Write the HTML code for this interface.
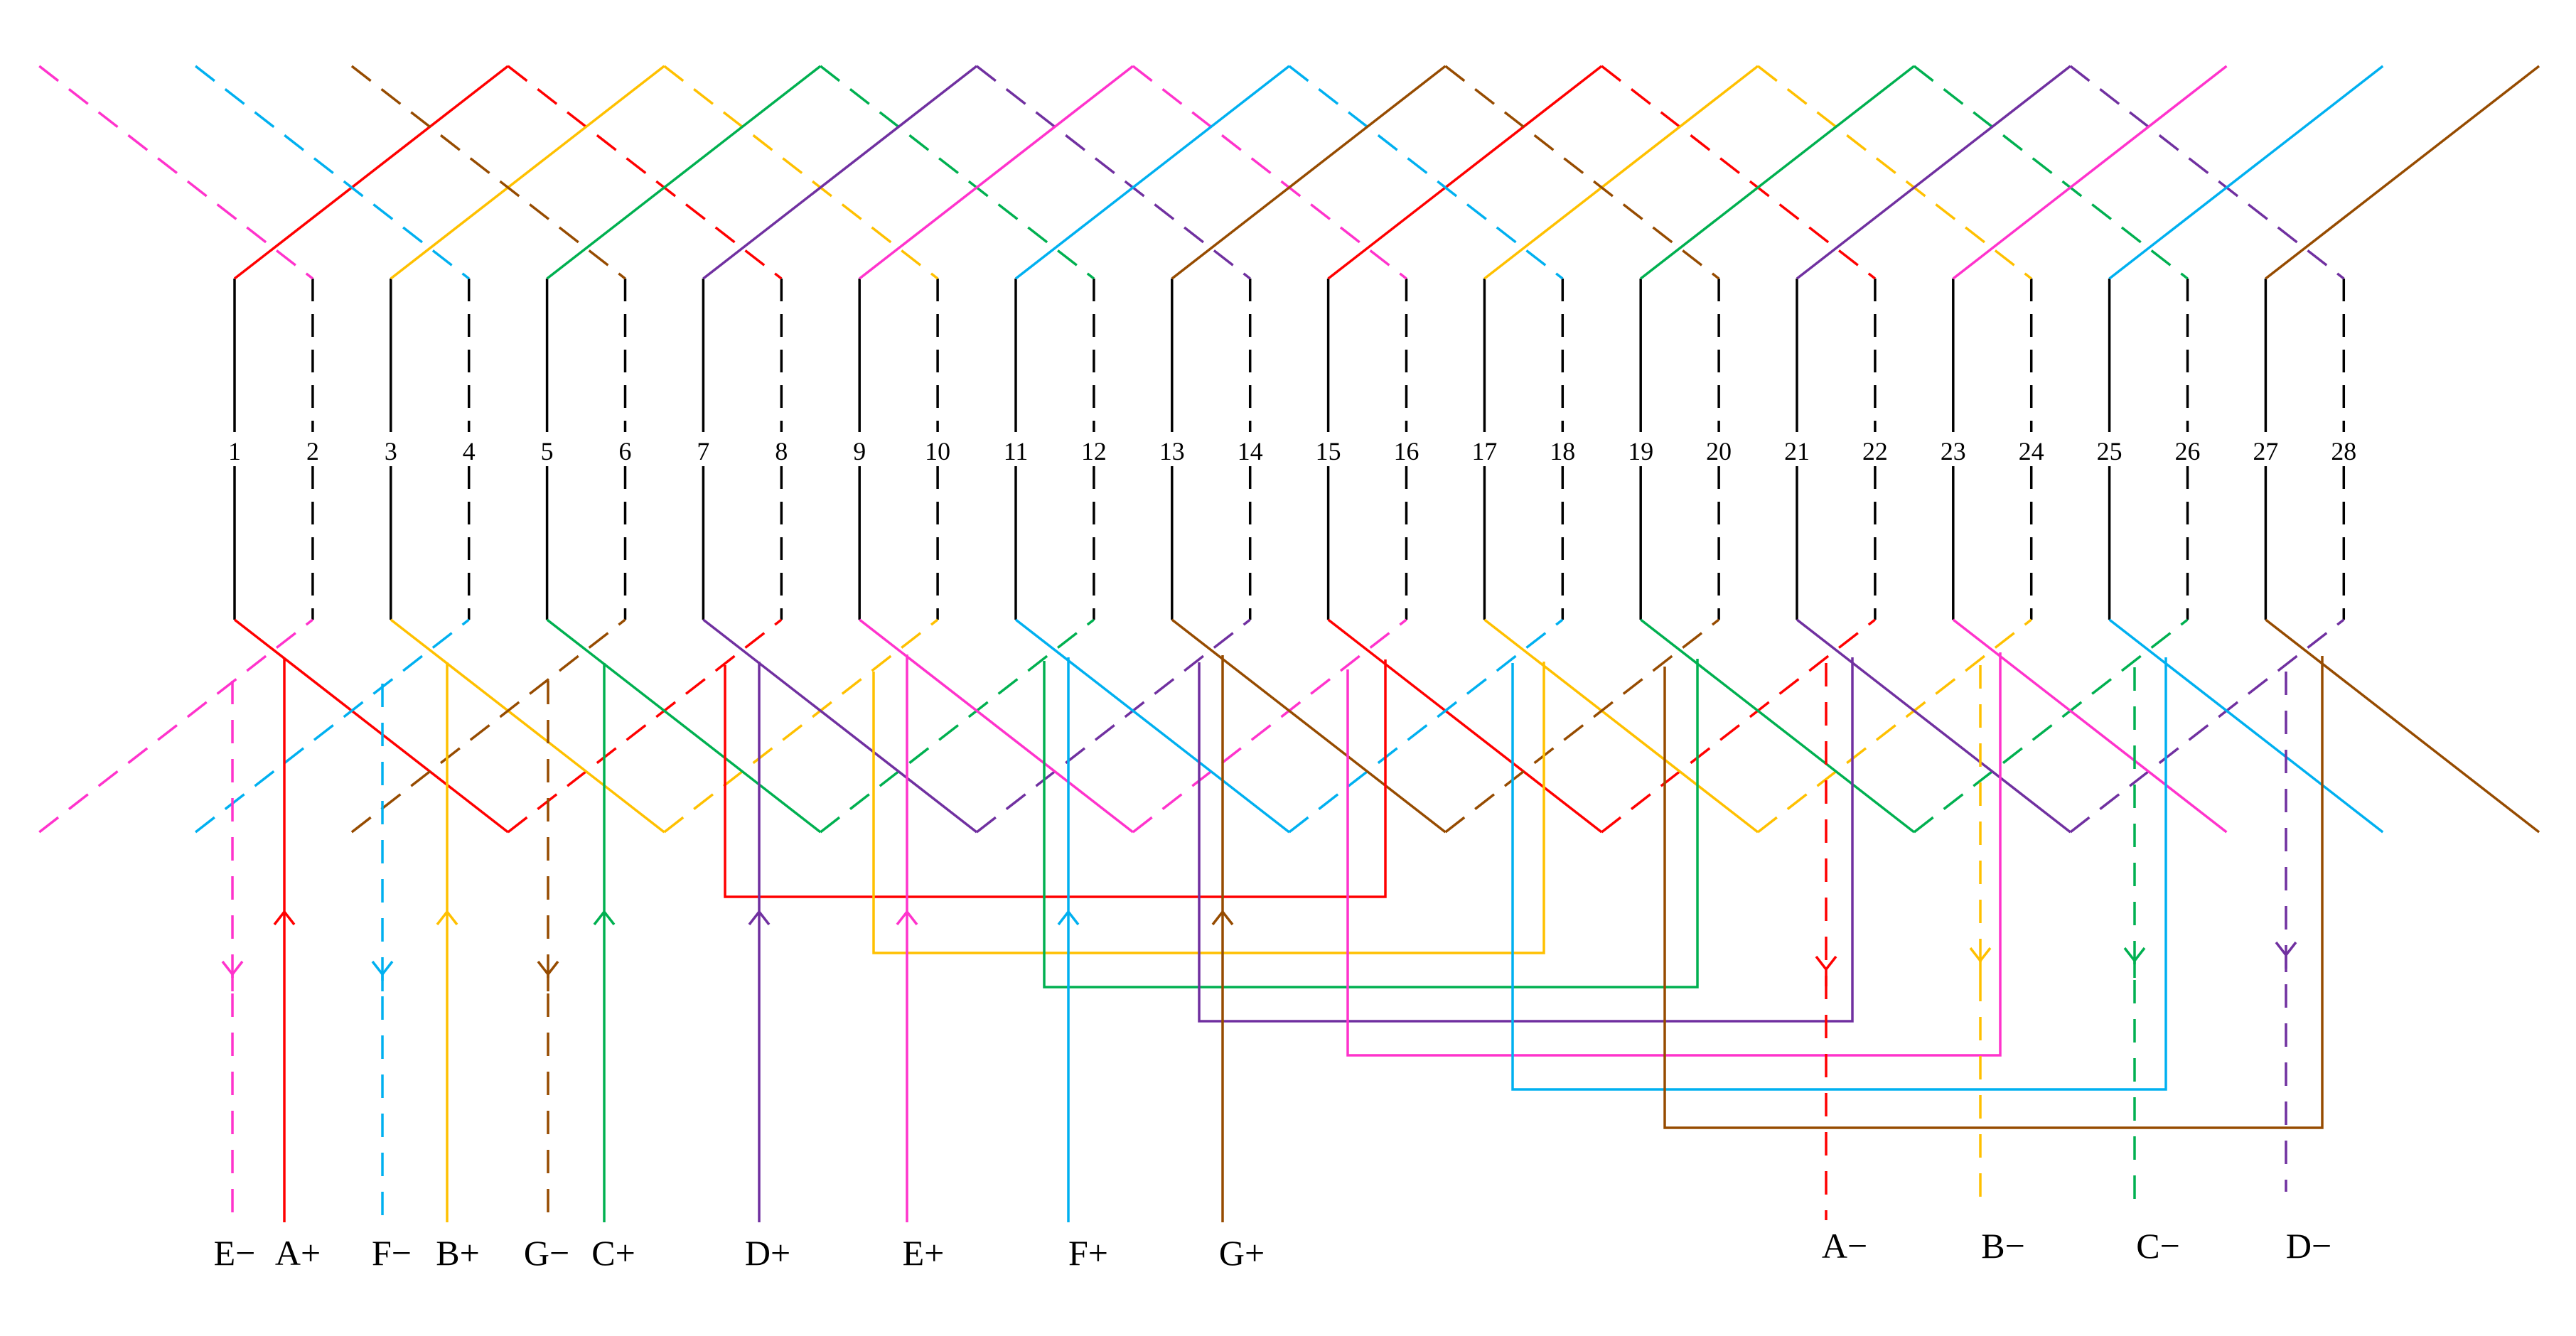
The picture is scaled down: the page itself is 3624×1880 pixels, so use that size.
<!DOCTYPE html>
<html><head><meta charset="utf-8"><style>html,body{margin:0;padding:0;background:#fff}svg{display:block}</style></head>
<body>
<svg width="3624" height="1880" viewBox="0 0 3624 1880" xmlns="http://www.w3.org/2000/svg">
<g fill="none" stroke-width="3.5">
<g transform="translate(330,0) scale(0.99547,1) translate(-330,0)">
<!-- slot lines -->
<path stroke="#000" d="M330 392V608M330 656V872M550.8 392V608M550.8 656V872M771.6 392V608M771.6 656V872M992.4 392V608M992.4 656V872M1213.2 392V608M1213.2 656V872M1434 392V608M1434 656V872M1654.8 392V608M1654.8 656V872M1875.6 392V608M1875.6 656V872M2096.4 392V608M2096.4 656V872M2317.2 392V608M2317.2 656V872M2538 392V608M2538 656V872M2758.8 392V608M2758.8 656V872M2979.6 392V608M2979.6 656V872M3200.4 392V608M3200.4 656V872"/>
<path stroke="#000" stroke-dasharray="32 18" d="M440.4 392V608M440.4 656V872M661.2 392V608M661.2 656V872M882 392V608M882 656V872M1102.8 392V608M1102.8 656V872M1323.6 392V608M1323.6 656V872M1544.4 392V608M1544.4 656V872M1765.2 392V608M1765.2 656V872M1986 392V608M1986 656V872M2206.8 392V608M2206.8 656V872M2427.6 392V608M2427.6 656V872M2648.4 392V608M2648.4 656V872M2869.2 392V608M2869.2 656V872M3090 392V608M3090 656V872M3310.8 392V608M3310.8 656V872"/>

<!-- red -->
<path stroke="#ff0000" d="M330 392L716.4 93M1875.6 392L2262 93M330 872L716.4 1171M1875.6 872L2262 1171"/>
<path stroke="#ff0000" stroke-dasharray="34 19" d="M716.4 93L1102.8 392M2262 93L2648.4 392M716.4 1171L1102.8 872M2262 1171L2648.4 872"/>
<!-- yellow -->
<path stroke="#ffc000" d="M550.8 392L937.2 93M2096.4 392L2482.8 93M550.8 872L937.2 1171M2096.4 872L2482.8 1171"/>
<path stroke="#ffc000" stroke-dasharray="34 19" d="M937.2 93L1323.6 392M2482.8 93L2869.2 392M937.2 1171L1323.6 872M2482.8 1171L2869.2 872"/>
<!-- green -->
<path stroke="#00b050" d="M771.6 392L1158 93M2317.2 392L2703.6 93M771.6 872L1158 1171M2317.2 872L2703.6 1171"/>
<path stroke="#00b050" stroke-dasharray="34 19" d="M1158 93L1544.4 392M2703.6 93L3090 392M1158 1171L1544.4 872M2703.6 1171L3090 872"/>
<!-- purple -->
<path stroke="#7030a0" d="M992.4 392L1378.8 93M2538 392L2924.4 93M992.4 872L1378.8 1171M2538 872L2924.4 1171"/>
<path stroke="#7030a0" stroke-dasharray="34 19" d="M1378.8 93L1765.2 392M2924.4 93L3310.8 392M1378.8 1171L1765.2 872M2924.4 1171L3310.8 872"/>
<!-- pink -->
<path stroke="#ff33cc" d="M1213.2 392L1599.6 93M2758.8 392L3145.2 93M1213.2 872L1599.6 1171M2758.8 872L3145.2 1171"/>
<path stroke="#ff33cc" stroke-dasharray="34 19" d="M1599.6 93L1986 392M54 93L440.4 392M1599.6 1171L1986 872M54 1171L440.4 872"/>
<!-- cyan -->
<path stroke="#00b0f0" d="M1434 392L1820.4 93M2979.6 392L3366 93M1434 872L1820.4 1171M2979.6 872L3366 1171"/>
<path stroke="#00b0f0" stroke-dasharray="34 19" d="M1820.4 93L2206.8 392M274.8 93L661.2 392M1820.4 1171L2206.8 872M274.8 1171L661.2 872"/>
<!-- brown -->
<path stroke="#964b00" d="M1654.8 392L2041.2 93M3200.4 392L3586.8 93M1654.8 872L2041.2 1171M3200.4 872L3586.8 1171"/>
<path stroke="#964b00" stroke-dasharray="34 19" d="M2041.2 93L2427.6 392M495.6 93L882 392M2041.2 1171L2427.6 872M495.6 1171L882 872"/>
</g>

<!-- loops -->
<path stroke="#ff0000" d="M1020 936V1262H1949V928"/>
<path stroke="#ffc000" d="M1229 945V1341H2172V931"/>
<path stroke="#00b050" d="M1469 930V1389H2388V927"/>
<path stroke="#7030a0" d="M1687 932V1437H2606V925"/>
<path stroke="#ff33cc" d="M1896 942V1485H2814V918"/>
<path stroke="#00b0f0" d="M2128 933V1533H3047V925"/>
<path stroke="#964b00" d="M2342 938V1587H3267V923"/>

<!-- positive leads (solid, arrow up) -->
<path stroke="#ff0000" d="M400 926V1720M386 1301L400 1283L414 1301"/>
<path stroke="#ffc000" d="M629 932V1720M615 1301L629 1283L643 1301"/>
<path stroke="#00b050" d="M850 933V1720M836 1301L850 1283L864 1301"/>
<path stroke="#7030a0" d="M1068 931V1720M1054 1301L1068 1283L1082 1301"/>
<path stroke="#ff33cc" d="M1276 921V1720M1262 1301L1276 1283L1290 1301"/>
<path stroke="#00b0f0" d="M1503 925V1720M1489 1301L1503 1283L1517 1301"/>
<path stroke="#964b00" d="M1720 922V1720M1706 1301L1720 1283L1734 1301"/>

<!-- negative leads (dashed, arrow down) -->
<g stroke-dasharray="33 22">
<path stroke="#ff33cc" d="M327 958V1712"/>
<path stroke="#00b0f0" d="M538 962V1712"/>
<path stroke="#964b00" d="M771 958V1712"/>
<path stroke="#ff0000" d="M2569 933V1717"/>
<path stroke="#ffc000" d="M2786 936V1694"/>
<path stroke="#00b050" d="M3003 939V1694"/>
<path stroke="#7030a0" d="M3216 945V1677"/>
</g>
<path stroke="#ff33cc" d="M313 1353L327 1371L341 1353M327 1371V1395"/>
<path stroke="#00b0f0" d="M524 1353L538 1371L552 1353M538 1371V1395"/>
<path stroke="#964b00" d="M757 1353L771 1371L785 1353M771 1371V1395"/>
<path stroke="#ff0000" d="M2555 1346L2569 1364L2583 1346M2569 1364V1388"/>
<path stroke="#ffc000" d="M2772 1334L2786 1352L2800 1334M2786 1352V1376"/>
<path stroke="#00b050" d="M2989 1334L3003 1352L3017 1334M3003 1352V1376"/>
<path stroke="#7030a0" d="M3202 1326L3216 1344L3230 1326M3216 1344V1368"/>
</g>

<g transform="translate(330,0) scale(0.99547,1) translate(-330,0)" font-family="'Liberation Serif', 'Noto Serif CJK SC', serif" font-size="36" text-anchor="middle" fill="#000">
<text x="330" y="647">1</text><text x="440.4" y="647">2</text><text x="550.8" y="647">3</text><text x="661.2" y="647">4</text>
<text x="771.6" y="647">5</text><text x="882" y="647">6</text><text x="992.4" y="647">7</text><text x="1102.8" y="647">8</text>
<text x="1213.2" y="647">9</text><text x="1323.6" y="647">10</text><text x="1434" y="647">11</text><text x="1544.4" y="647">12</text>
<text x="1654.8" y="647">13</text><text x="1765.2" y="647">14</text><text x="1875.6" y="647">15</text><text x="1986" y="647">16</text>
<text x="2096.4" y="647">17</text><text x="2206.8" y="647">18</text><text x="2317.2" y="647">19</text><text x="2427.6" y="647">20</text>
<text x="2538" y="647">21</text><text x="2648.4" y="647">22</text><text x="2758.8" y="647">23</text><text x="2869.2" y="647">24</text>
<text x="2979.6" y="647">25</text><text x="3090" y="647">26</text><text x="3200.4" y="647">27</text><text x="3310.8" y="647">28</text>
</g>
<g font-family="'Liberation Serif', 'Noto Serif CJK SC', serif" font-size="50" text-anchor="middle" fill="#000">
<text x="330" y="1780">E−</text><text x="419" y="1780">A+</text><text x="551" y="1780">F−</text><text x="644" y="1780">B+</text>
<text x="769" y="1780">G−</text><text x="863" y="1780">C+</text><text x="1080" y="1780">D+</text><text x="1299" y="1780">E+</text>
<text x="1531" y="1780">F+</text><text x="1747" y="1780">G+</text>
<text x="2595" y="1770">A−</text><text x="2818" y="1770">B−</text><text x="3036" y="1770">C−</text><text x="3248" y="1770">D−</text>
</g>
</svg>
</body></html>
